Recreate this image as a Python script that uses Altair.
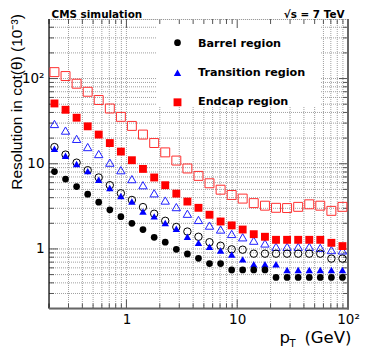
import altair as alt
import pandas as pd

# ---------------- data ----------------
pt = [0.224, 0.282, 0.355, 0.447, 0.562, 0.708, 0.891, 1.12, 1.41, 1.78, 2.24, 2.82,
      3.55, 4.47, 5.62, 7.08, 8.91, 11.2, 14.1, 17.8, 22.4, 28.2, 35.5, 44.7, 56.2,
      70.8, 89.1]

barrel_filled = [8.1, 6.6, 5.4, 4.4, 3.54, 2.88, 2.39, 2.0, 1.69, 1.37, 1.20, 0.99,
                 0.875, 0.776, 0.673, 0.673, 0.567, 0.567, 0.567, 0.567, 0.463, 0.463,
                 0.463, 0.463, 0.463, 0.463, 0.463]
barrel_open = [15.7, 12.8, 10.3, 8.4, 6.9, 5.6, 4.5, 3.76, 3.1, 2.59, 2.14, 1.81,
               1.6, 1.39, 1.2, 1.09, 0.99, 0.98, 0.88, 0.88, 0.88, 0.88, 0.88, 0.88,
               0.88, 0.77, 0.77]
trans_filled = [15.0, 12.4, 9.95, 8.2, 6.5, 5.2, 4.19, 3.6, 2.75, 2.41, 2.02, 1.73,
                1.39, 1.18, 1.06, 0.96, 0.86, 0.755, 0.66, 0.66, 0.66, 0.565, 0.565,
                0.565, 0.565, 0.565, 0.565]
trans_open = [29.3, 24.5, 19.6, 15.7, 13.0, 10.3, 8.4, 6.6, 5.6, 4.5, 3.7, 3.1,
              2.59, 2.19, 1.88, 1.69, 1.50, 1.37, 1.25, 1.16, 1.06, 1.06, 1.06, 1.06,
              1.03, 0.97, 0.96]
endcap_filled = [51, 43, 34.7, 27.5, 22.0, 17.5, 13.9, 11.0, 8.7, 6.9, 5.6, 4.46,
                 3.6, 3.04, 2.52, 2.1, 1.89, 1.69, 1.49, 1.39, 1.28, 1.28, 1.28, 1.28,
                 1.28, 1.18, 1.08]
endcap_open = [119, 107, 87, 70, 56, 44.5, 35.5, 27.8, 22.0, 17.5, 13.6, 10.9,
               8.8, 7.2, 5.9, 4.96, 4.3, 3.9, 3.45, 3.22, 3.04, 3.02, 3.12, 3.34,
               3.22, 2.8, 3.12]

legend_labels = ["Barrel region", "Transition region", "Endcap region"]

x_major = [1, 10, 100]
x_minor = [0.2, 0.3, 0.4, 0.5, 0.6, 0.7, 0.8, 0.9, 2, 3, 4, 5, 6, 7, 8, 9,
           20, 30, 40, 50, 60, 70, 80, 90]
y_major = [1, 10, 100]
y_minor = [0.3, 0.4, 0.5, 0.6, 0.7, 0.8, 0.9, 2, 3, 4, 5, 6, 7, 8, 9,
           20, 30, 40, 50, 60, 70, 80, 90, 200, 300, 400]

# ---------------- layout ----------------
TOP = 19.0                      # absolute y of the plot top
W, H = 299, 308.5 - TOP
FONT = "DejaVu Sans"
xs = alt.Scale(type="log", domain=[0.2, 100], nice=False)
ys = alt.Scale(type="log", domain=[0.2, 500], nice=False)

def ry(abs_y):
    return abs_y - TOP

x_axis = alt.Axis(values=x_major, ticks=False, domain=False, grid=False,
                  labelFont=FONT, labelFontSize=13.5, labelColor="black",
                  labelPadding=4, labelFlush=False, labelOverlap=False,
                  labelExpr="datum.value >= 100 ? '10²' : (datum.value >= 10 ? '10' : '1')",
                  title=None)
y_axis = alt.Axis(values=y_major, ticks=False, domain=False, grid=False,
                  labelFont=FONT, labelFontSize=13.5, labelColor="black",
                  labelPadding=5, labelFlush=False, labelOverlap=False,
                  labelExpr="datum.value >= 100 ? '10²' : (datum.value >= 10 ? '10' : '1')",
                  title=None)

def X(f):
    return alt.X(f, type="quantitative", scale=xs, axis=x_axis, title=None)

def Y(f):
    return alt.Y(f, type="quantitative", scale=ys, axis=y_axis, title=None)

one = pd.DataFrame({"a": [0]})
layers = []

# grid
grid_x = sorted(x_major[:-1] + x_minor[1:])
grid_y = sorted(y_major + y_minor)
gstyle = dict(color="#a0a0a0", strokeDash=[1, 1], strokeWidth=1)
layers.append(alt.Chart(pd.DataFrame({"v": grid_x})).mark_rule(**gstyle).encode(x=X("v")))
layers.append(alt.Chart(pd.DataFrame({"v": grid_y})).mark_rule(**gstyle).encode(y=Y("v")))

# legend white box
layers.append(alt.Chart(one).mark_rect(color="white").encode(
    x=alt.value(108), x2=alt.value(271), y=alt.value(0.5), y2=alt.value(ry(106.5))))

# inner ticks on four sides
tstyle = dict(color="#555555", strokeWidth=1)
for vals, ln in ((x_major, 9), (x_minor, 5)):
    d = pd.DataFrame({"v": vals})
    layers.append(alt.Chart(d).mark_rule(**tstyle).encode(x=X("v"), y=alt.value(H), y2=alt.value(H - ln)))
    layers.append(alt.Chart(d).mark_rule(**tstyle).encode(x=X("v"), y=alt.value(0), y2=alt.value(ln)))
for vals, ln in ((y_major, 9), (y_minor, 5)):
    d = pd.DataFrame({"v": vals})
    layers.append(alt.Chart(d).mark_rule(**tstyle).encode(y=Y("v"), x=alt.value(0), x2=alt.value(ln)))
    layers.append(alt.Chart(d).mark_rule(**tstyle).encode(y=Y("v"), x=alt.value(W), x2=alt.value(W - ln)))

# frame
layers.append(alt.Chart(one).mark_rule(color="#9a9a9a", strokeDash=[1, 1]).encode(
    x=alt.value(0), x2=alt.value(W), y=alt.value(0.5)))
layers.append(alt.Chart(one).mark_rule(color="black", strokeWidth=1.2).encode(
    x=alt.value(0), y=alt.value(0), y2=alt.value(H)))
layers.append(alt.Chart(one).mark_rule(color="#666666", strokeWidth=2).encode(
    x=alt.value(0), x2=alt.value(W + 1), y=alt.value(H)))
layers.append(alt.Chart(one).mark_rule(color="#666666", strokeWidth=2).encode(
    x=alt.value(W), y=alt.value(0), y2=alt.value(H + 1)))

# data points
def series(vals, shape, color, filled, size):
    d = pd.DataFrame({"pt": pt, "res": vals})
    return alt.Chart(d).mark_point(shape=shape, filled=filled, size=size, color=color,
                                   opacity=1, strokeWidth=1).encode(x=X("pt"), y=Y("res"))

layers.append(series(endcap_open, "square", "#ff3030", False, 80))
layers.append(series(trans_open, "triangle-up", "#2020ff", False, 70))
layers.append(series(barrel_open, "circle", "black", False, 55))
layers.append(series(endcap_filled, "square", "#ff0000", True, 62))
layers.append(series(trans_filled, "triangle-up", "#0000ff", True, 55))
layers.append(series(barrel_filled, "circle", "black", True, 45))

# legend entries (absolute y of marker, absolute y of text centre)
leg = [("circle", "black", 45, 42.7, 44.0),
       ("triangle-up", "#0000ff", 55, 72.7, 73.0),
       ("square", "#ff0000", 62, 102.3, 102.0)]
for (shape, color, size, my, ty), lab in zip(leg, legend_labels):
    layers.append(alt.Chart(one).mark_point(shape=shape, filled=True, size=size, color=color,
                                            opacity=1).encode(x=alt.value(128.5), y=alt.value(ry(my))))
    layers.append(alt.Chart(one).mark_text(text=lab, font=FONT, fontWeight="bold", fontSize=11.2,
                                           align="left", baseline="middle", color="black").encode(
        x=alt.value(149), y=alt.value(ry(ty))))

# header texts
layers.append(alt.Chart(one).mark_text(text="CMS simulation", font=FONT, fontWeight="bold",
                                       fontSize=10.4, align="left", baseline="alphabetic").encode(
    x=alt.value(2.5), y=alt.value(ry(18.2))))
layers.append(alt.Chart(one).mark_text(text="√s = 7 TeV", font=FONT, fontWeight="bold",
                                       fontSize=10.4, align="right", baseline="alphabetic").encode(
    x=alt.value(295.5), y=alt.value(ry(18.2))))

# axis titles
layers.append(alt.Chart(one).mark_text(text="Resolution in cot(θ) (10⁻³)", font="Liberation Sans",
                                       fontSize=15.5, angle=270, align="center",
                                       baseline="middle").encode(
    x=alt.value(-32), y=alt.value(ry(102))))
layers.append(alt.Chart(one).mark_text(text="p", font=FONT, fontSize=16.5, align="left",
                                       baseline="alphabetic").encode(
    x=alt.value(230.5), y=alt.value(ry(342.5))))
layers.append(alt.Chart(one).mark_text(text="T", font=FONT, fontSize=10, align="left",
                                       baseline="alphabetic").encode(
    x=alt.value(240.5), y=alt.value(ry(346.5))))
layers.append(alt.Chart(one).mark_text(text="(GeV)", font=FONT, fontSize=16.5, align="right",
                                       baseline="alphabetic").encode(
    x=alt.value(302.5), y=alt.value(ry(342.5))))

chart = alt.layer(*layers).properties(
    width=W, height=H,
    autosize=alt.AutoSizeParams(type="none"),
    padding={"left": 41, "top": TOP - 8, "right": 18, "bottom": 347 - 308.5},
).configure_view(stroke=None).configure(background="white")

chart.save("out.html", embed_options={"renderer": "svg", "actions": False})
